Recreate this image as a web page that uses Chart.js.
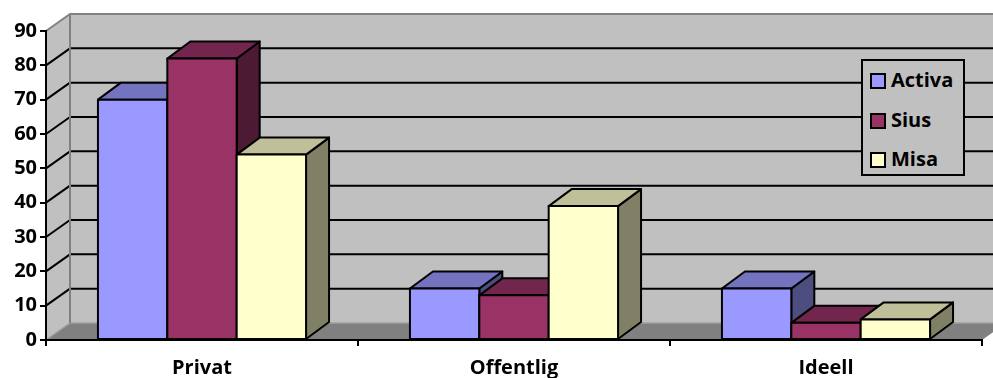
<!DOCTYPE html>
<html>
<head>
<meta charset="utf-8">
<script src="https://cdn.jsdelivr.net/npm/chart.js@4"></script>
<style>
  body { margin: 0; background: #fff; }
  #wrap { position: relative; width: 993px; height: 378px; }
  #legend {
    position: absolute; left: 861px; top: 59px; width: 100px; height: 113px;
    border: 2px solid #000; background: #c0c0c0;
    font-family: "Open Sans", sans-serif; font-weight: bold; font-size: 20px; color: #000;
  }
  #legend div { position: absolute; left: 7px; height: 20px; line-height: 20px; white-space: nowrap; }
  #legend span { display: inline-block; width: 12px; height: 12px; border: 2px solid #000; vertical-align: -2px; margin-right: 5px; }
</style>
</head>
<body>
<div id="wrap">
  <canvas id="myChart" width="993" height="378"></canvas>
  <div id="legend"></div>
</div>
<script>
const categories = ['Privat', 'Offentlig', 'Ideell'];
const activa = [70, 15, 15];
const sius = [82, 13, 5];
const misa = [54, 39, 6];

// front / top / side shades for each series
const faces = [
  { front: '#9999ff', top: '#7373bf', side: '#4d4d80' },
  { front: '#993366', top: '#73264d', side: '#4d1a33' },
  { front: '#ffffcc', top: '#bfbf99', side: '#808066' }
];

const wallDepth = { dx: 24, dy: -17 };
const barDepth = { dx: 23, dy: -17 };

function poly(ctx, pts, fill, stroke, lw) {
  ctx.beginPath();
  ctx.moveTo(pts[0][0], pts[0][1]);
  for (let i = 1; i < pts.length; i++) ctx.lineTo(pts[i][0], pts[i][1]);
  ctx.closePath();
  if (fill) { ctx.fillStyle = fill; ctx.fill(); }
  if (stroke) { ctx.strokeStyle = stroke; ctx.lineWidth = lw || 2; ctx.stroke(); }
}

const walls = {
  id: 'walls',
  beforeDraw(chart) {
    const ctx = chart.ctx;
    const a = chart.chartArea;
    const y = chart.scales.y;
    const dx = wallDepth.dx, dy = wallDepth.dy;
    const y0 = y.getPixelForValue(0);
    ctx.save();
    ctx.lineJoin = 'round';
    // back wall and left side wall
    poly(ctx, [[a.left + dx, a.top + dy], [a.right + dx, a.top + dy], [a.right + dx, y0 + dy], [a.left + dx, y0 + dy]], '#c0c0c0');
    poly(ctx, [[a.left, a.top], [a.left + dx, a.top + dy], [a.left + dx, y0 + dy], [a.left, y0]], '#c0c0c0');
    // floor
    poly(ctx, [[a.left, y0], [a.left + dx, y0 + dy], [a.right + dx, y0 + dy], [a.right, y0]], '#808080');
    ctx.strokeStyle = '#a0a0a0';
    ctx.lineWidth = 1.5;
    ctx.beginPath();
    ctx.moveTo(a.left + dx, y0 + dy); ctx.lineTo(a.right + dx, y0 + dy);
    ctx.moveTo(a.left, y0); ctx.lineTo(a.left + dx, y0 + dy);
    ctx.stroke();
    // gridlines on the walls
    ctx.strokeStyle = '#000';
    ctx.lineWidth = 2;
    y.ticks.forEach(t => {
      if (t.value === 0 || t.value === y.max) return;
      const py = y.getPixelForValue(t.value);
      ctx.beginPath();
      ctx.moveTo(a.left, py);
      ctx.lineTo(a.left + dx, py + dy);
      ctx.lineTo(a.right + dx, py + dy);
      ctx.stroke();
    });
    // wall edges
    ctx.strokeStyle = '#808080';
    ctx.lineWidth = 2;
    ctx.beginPath();
    ctx.moveTo(a.left, a.top);
    ctx.lineTo(a.left + dx, a.top + dy);
    ctx.lineTo(a.right + dx, a.top + dy);
    ctx.moveTo(a.left + dx, a.top + dy);
    ctx.lineTo(a.left + dx, y0 + dy);
    ctx.stroke();
    ctx.restore();
  }
};

const boxes = {
  id: 'boxes',
  afterDatasetsDraw(chart) {
    const ctx = chart.ctx;
    const dx = barDepth.dx, dy = barDepth.dy;
    ctx.save();
    ctx.lineJoin = 'round';
    categories.forEach((c, i) => {
      chart.data.datasets.forEach((ds, d) => {
        const bar = chart.getDatasetMeta(d).data[i];
        const l = bar.x - bar.width / 2, r = bar.x + bar.width / 2;
        const t = bar.y, b = bar.base;
        const f = faces[d];
        poly(ctx, [[r, t], [r + dx, t + dy], [r + dx, b + dy], [r, b]], f.side, '#000', 2);
        poly(ctx, [[l, t], [l + dx, t + dy], [r + dx, t + dy], [r, t]], f.top, '#000', 2);
        poly(ctx, [[l, t], [r, t], [r, b], [l, b]], f.front, '#000', 2);
      });
    });
    ctx.restore();
  }
};

const font = { family: 'Open Sans', weight: 'bold', size: 20 };

const ctx = document.getElementById('myChart').getContext('2d');
const myChart = new Chart(ctx, {
  type: 'bar',
  data: {
    labels: categories,
    datasets: [
      { label: 'Activa', data: activa, backgroundColor: faces[0].front },
      { label: 'Sius', data: sius, backgroundColor: faces[1].front },
      { label: 'Misa', data: misa, backgroundColor: faces[2].front }
    ]
  },
  options: {
    responsive: false,
    animation: false,
    categoryPercentage: 0.667,
    barPercentage: 1,
    borderWidth: 0,
    layout: { padding: { top: 31, right: 11, left: 0, bottom: 0 } },
    plugins: { legend: { display: false }, tooltip: { enabled: false } },
    scales: {
      x: {
        grid: { drawOnChartArea: false, tickLength: 6, color: '#000', lineWidth: 2 },
        border: { color: '#000', width: 2 },
        ticks: { color: '#000', font: font, padding: 10 },
        afterFit(s) { s.height = 38; }
      },
      y: {
        min: 0,
        max: 90,
        grid: { drawOnChartArea: false, tickLength: 6, color: '#000', lineWidth: 2 },
        border: { color: '#000', width: 2 },
        ticks: { stepSize: 10, color: '#000', font: font, padding: 3 },
        afterFit(s) { s.width = 46; }
      }
    }
  },
  plugins: [walls, boxes]
});

// legend box
const legend = document.getElementById('legend');
myChart.data.datasets.forEach((ds, d) => {
  const row = document.createElement('div');
  row.style.top = (9 + d * 39.5) + 'px';
  row.innerHTML = '<span style="background:' + faces[d].front + '"></span>' + ds.label;
  legend.appendChild(row);
});
</script>
</body>
</html>
